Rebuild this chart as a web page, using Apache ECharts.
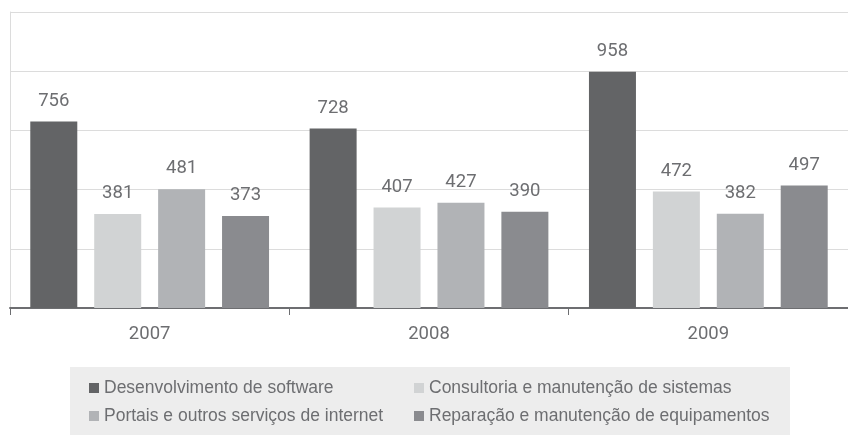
<!DOCTYPE html>
<html>
<head>
<meta charset="utf-8">
<script src="https://cdn.jsdelivr.net/npm/echarts@6/dist/echarts.min.js"></script>
<style>
  html, body { margin: 0; padding: 0; background: #fff; }
  #chart { width: 848px; height: 436px; }
</style>
</head>
<body>
<div id="chart"></div>
<script>
// anos
var years = ['2007', '2008', '2009'];

// séries
var seriesNames = [
    'Desenvolvimento de software',
    'Consultoria e manutenção de sistemas',
    'Portais e outros serviços de internet',
    'Reparação e manutenção de equipamentos'
];
var software = [756, 728, 958];
var consultoria = [381, 407, 472];
var portais = [481, 427, 382];
var reparacao = [373, 390, 497];

var colors = ['#636466', '#d1d3d4', '#b1b3b6', '#8a8b8f'];
var textColor = '#6d6e71';
var numFont = 'Roboto, "DejaVu Sans Condensed", sans-serif';
var legendFont = '"Liberation Sans", Arial, sans-serif';

var values = [software, consultoria, portais, reparacao];

const makeSeries = () => values.map(function (data, i) {
    return {
        name: seriesNames[i],
        type: 'bar',
        data: data,
        barWidth: 47,
        barGap: '36%',
        itemStyle: { color: colors[i] },
        label: {
            show: true,
            position: 'top',
            distance: 11,
            color: textColor,
            fontFamily: numFont,
            fontSize: 18.5
        }
    };
});

const legendStyle = {
    orient: 'vertical',
    icon: 'rect',
    itemWidth: 10,
    itemHeight: 10,
    itemGap: 10,
    top: 379,
    padding: 0,
    selectedMode: false,
    textStyle: {
        color: textColor,
        fontFamily: legendFont,
        fontSize: 17.5
    }
};

const myChart = echarts.init(document.getElementById('chart'));
myChart.setOption({
    animation: false,
    color: colors,
    graphic: [{
        type: 'rect',
        z: -10,
        shape: { x: 70, y: 367, width: 720, height: 68 },
        style: { fill: '#ededed' }
    }],
    legend: [
        Object.assign({}, legendStyle, { left: 89, data: [seriesNames[0], seriesNames[2]] }),
        Object.assign({}, legendStyle, { left: 414, data: [seriesNames[1], seriesNames[3]] })
    ],
    grid: {
        left: 10,
        right: -4,
        top: 12,
        bottom: 128
    },
    xAxis: {
        type: 'category',
        data: years,
        axisLine: { lineStyle: { color: '#6d6e71', width: 2 } },
        axisTick: { show: true, length: 7, lineStyle: { color: '#6d6e71', width: 1 } },
        axisLabel: {
            color: textColor,
            fontFamily: numFont,
            fontSize: 18.5,
            margin: 17
        }
    },
    yAxis: {
        type: 'value',
        min: 0,
        max: 1200,
        interval: 240,
        axisLabel: { show: false },
        axisTick: { show: false },
        axisLine: { show: true, lineStyle: { color: '#dcdcdc', width: 1 } },
        splitLine: { lineStyle: { color: '#dcdcdc', width: 1 } }
    },
    series: makeSeries()
});
</script>
</body>
</html>
